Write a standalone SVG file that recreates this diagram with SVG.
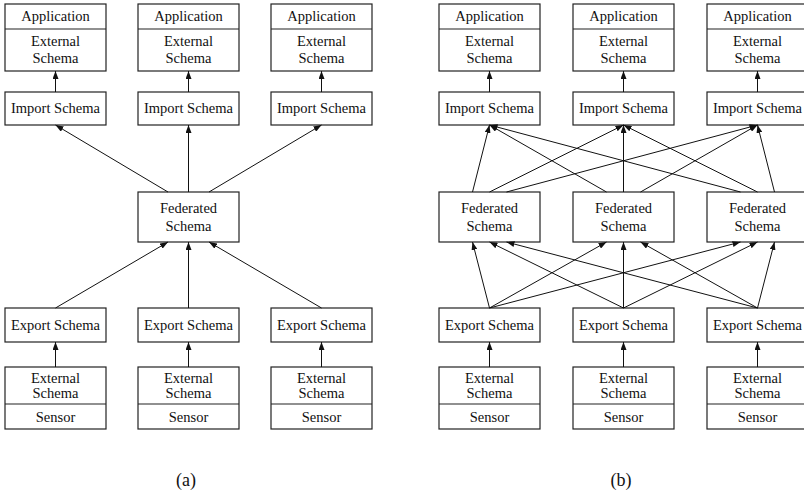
<svg xmlns="http://www.w3.org/2000/svg" width="804" height="496" viewBox="0 0 804 496">
<style>
  rect, .div { fill: #fff; stroke: #222; stroke-width: 1.2; }
  .div { fill: none; }
  text { font-family: "Liberation Serif", "Times New Roman", serif; font-size: 14.5px; fill: #111; text-anchor: middle; }
  .cap { font-size: 18px; }
  .e line { stroke: #111; stroke-width: 1; marker-end: url(#ah); }
</style>
<defs>
  <marker id="ah" markerUnits="userSpaceOnUse" markerWidth="8" markerHeight="6" refX="8" refY="3" orient="auto">
    <path d="M0,0 L8,3 L0,6 z" fill="#111"/>
  </marker>
</defs>

<!-- Panel (a) nodes -->
<g id="a-app1"><rect x="5" y="4" width="101" height="67"/><line class="div" x1="5" y1="29" x2="106" y2="29"/><text x="55.5" y="21">Application</text><text x="55.5" y="46">External</text><text x="55.5" y="63">Schema</text></g>
<g id="a-app2"><rect x="138" y="4" width="101" height="67"/><line class="div" x1="138" y1="29" x2="239" y2="29"/><text x="188.5" y="21">Application</text><text x="188.5" y="46">External</text><text x="188.5" y="63">Schema</text></g>
<g id="a-app3"><rect x="271" y="4" width="101" height="67"/><line class="div" x1="271" y1="29" x2="372" y2="29"/><text x="321.5" y="21">Application</text><text x="321.5" y="46">External</text><text x="321.5" y="63">Schema</text></g>
<g id="a-imp1"><rect x="5" y="92" width="101" height="33"/><text x="55.5" y="113">Import Schema</text></g>
<g id="a-imp2"><rect x="138" y="92" width="101" height="33"/><text x="188.5" y="113">Import Schema</text></g>
<g id="a-imp3"><rect x="271" y="92" width="101" height="33"/><text x="321.5" y="113">Import Schema</text></g>
<g id="a-fed"><rect x="138" y="192" width="101" height="50"/><text x="188.5" y="213">Federated</text><text x="188.5" y="231">Schema</text></g>
<g id="a-exp1"><rect x="5" y="308" width="101" height="34"/><text x="55.5" y="330">Export Schema</text></g>
<g id="a-exp2"><rect x="138" y="308" width="101" height="34"/><text x="188.5" y="330">Export Schema</text></g>
<g id="a-exp3"><rect x="271" y="308" width="101" height="34"/><text x="321.5" y="330">Export Schema</text></g>
<g id="a-sen1"><rect x="5" y="367" width="101" height="62"/><line class="div" x1="5" y1="404" x2="106" y2="404"/><text x="55.5" y="383">External</text><text x="55.5" y="398">Schema</text><text x="55.5" y="422">Sensor</text></g>
<g id="a-sen2"><rect x="138" y="367" width="101" height="62"/><line class="div" x1="138" y1="404" x2="239" y2="404"/><text x="188.5" y="383">External</text><text x="188.5" y="398">Schema</text><text x="188.5" y="422">Sensor</text></g>
<g id="a-sen3"><rect x="271" y="367" width="101" height="62"/><line class="div" x1="271" y1="404" x2="372" y2="404"/><text x="321.5" y="383">External</text><text x="321.5" y="398">Schema</text><text x="321.5" y="422">Sensor</text></g>

<!-- Panel (b) nodes -->
<g id="b-app1"><rect x="439" y="4" width="101" height="67"/><line class="div" x1="439" y1="29" x2="540" y2="29"/><text x="489.5" y="21">Application</text><text x="489.5" y="46">External</text><text x="489.5" y="63">Schema</text></g>
<g id="b-app2"><rect x="573" y="4" width="101" height="67"/><line class="div" x1="573" y1="29" x2="674" y2="29"/><text x="623.5" y="21">Application</text><text x="623.5" y="46">External</text><text x="623.5" y="63">Schema</text></g>
<g id="b-app3"><rect x="707" y="4" width="101" height="67"/><line class="div" x1="707" y1="29" x2="808" y2="29"/><text x="757.5" y="21">Application</text><text x="757.5" y="46">External</text><text x="757.5" y="63">Schema</text></g>
<g id="b-imp1"><rect x="439" y="92" width="101" height="33"/><text x="489.5" y="113">Import Schema</text></g>
<g id="b-imp2"><rect x="573" y="92" width="101" height="33"/><text x="623.5" y="113">Import Schema</text></g>
<g id="b-imp3"><rect x="707" y="92" width="101" height="33"/><text x="757.5" y="113">Import Schema</text></g>
<g id="b-fed1"><rect x="439" y="192" width="101" height="50"/><text x="489.5" y="213">Federated</text><text x="489.5" y="231">Schema</text></g>
<g id="b-fed2"><rect x="573" y="192" width="101" height="50"/><text x="623.5" y="213">Federated</text><text x="623.5" y="231">Schema</text></g>
<g id="b-fed3"><rect x="707" y="192" width="101" height="50"/><text x="757.5" y="213">Federated</text><text x="757.5" y="231">Schema</text></g>
<g id="b-exp1"><rect x="439" y="308" width="101" height="34"/><text x="489.5" y="330">Export Schema</text></g>
<g id="b-exp2"><rect x="573" y="308" width="101" height="34"/><text x="623.5" y="330">Export Schema</text></g>
<g id="b-exp3"><rect x="707" y="308" width="101" height="34"/><text x="757.5" y="330">Export Schema</text></g>
<g id="b-sen1"><rect x="439" y="367" width="101" height="62"/><line class="div" x1="439" y1="404" x2="540" y2="404"/><text x="489.5" y="383">External</text><text x="489.5" y="398">Schema</text><text x="489.5" y="422">Sensor</text></g>
<g id="b-sen2"><rect x="573" y="367" width="101" height="62"/><line class="div" x1="573" y1="404" x2="674" y2="404"/><text x="623.5" y="383">External</text><text x="623.5" y="398">Schema</text><text x="623.5" y="422">Sensor</text></g>
<g id="b-sen3"><rect x="707" y="367" width="101" height="62"/><line class="div" x1="707" y1="404" x2="808" y2="404"/><text x="757.5" y="383">External</text><text x="757.5" y="398">Schema</text><text x="757.5" y="422">Sensor</text></g>

<!-- Connectors -->
<g id="connectors" class="e">
  <!-- (a) -->
  <line x1="55.5" y1="92" x2="55.5" y2="71"/>
  <line x1="188.5" y1="92" x2="188.5" y2="71"/>
  <line x1="321.5" y1="92" x2="321.5" y2="71"/>
  <line x1="168" y1="192" x2="55.5" y2="125"/>
  <line x1="188.5" y1="192" x2="188.5" y2="125"/>
  <line x1="209" y1="192" x2="321.5" y2="125"/>
  <line x1="55.5" y1="308" x2="168" y2="242"/>
  <line x1="188.5" y1="308" x2="188.5" y2="242"/>
  <line x1="321.5" y1="308" x2="209" y2="242"/>
  <line x1="55.5" y1="367" x2="55.5" y2="342"/>
  <line x1="188.5" y1="367" x2="188.5" y2="342"/>
  <line x1="321.5" y1="367" x2="321.5" y2="342"/>
  <!-- (b) -->
  <line x1="489.5" y1="92" x2="489.5" y2="71"/>
  <line x1="623.5" y1="92" x2="623.5" y2="71"/>
  <line x1="757.5" y1="92" x2="757.5" y2="71"/>
  <line x1="472.5" y1="192" x2="489.5" y2="125"/>
  <line x1="489.5" y1="192" x2="623.5" y2="125"/>
  <line x1="506.5" y1="192" x2="757.5" y2="125"/>
  <line x1="606.5" y1="192" x2="489.5" y2="125"/>
  <line x1="623.5" y1="192" x2="623.5" y2="125"/>
  <line x1="640.5" y1="192" x2="757.5" y2="125"/>
  <line x1="740.5" y1="192" x2="489.5" y2="125"/>
  <line x1="757.5" y1="192" x2="623.5" y2="125"/>
  <line x1="774.5" y1="192" x2="757.5" y2="125"/>
  <line x1="489.5" y1="308" x2="472.5" y2="242"/>
  <line x1="623.5" y1="308" x2="489.5" y2="242"/>
  <line x1="757.5" y1="308" x2="506.5" y2="242"/>
  <line x1="489.5" y1="308" x2="606.5" y2="242"/>
  <line x1="623.5" y1="308" x2="623.5" y2="242"/>
  <line x1="757.5" y1="308" x2="640.5" y2="242"/>
  <line x1="489.5" y1="308" x2="740.5" y2="242"/>
  <line x1="623.5" y1="308" x2="757.5" y2="242"/>
  <line x1="757.5" y1="308" x2="774.5" y2="242"/>
  <line x1="489.5" y1="367" x2="489.5" y2="342"/>
  <line x1="623.5" y1="367" x2="623.5" y2="342"/>
  <line x1="757.5" y1="367" x2="757.5" y2="342"/>
</g>

<text class="cap" x="186" y="486">(a)</text>
<text class="cap" x="621" y="486">(b)</text>
</svg>
